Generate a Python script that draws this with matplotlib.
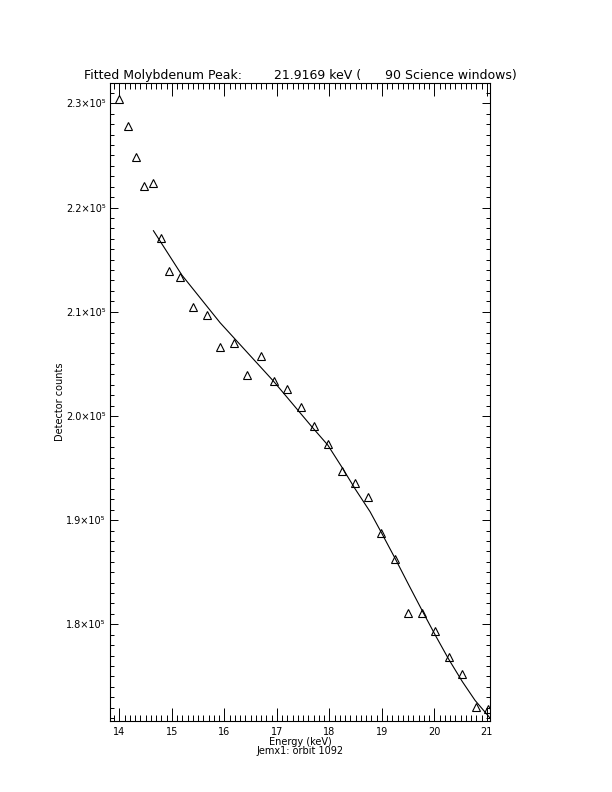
import numpy as np
import matplotlib
matplotlib.use("Agg")
import matplotlib.pyplot as plt
from matplotlib.ticker import MultipleLocator, FuncFormatter

# measured spectrum (keV, counts)
energy = [14.000, 14.166, 14.324, 14.476, 14.636, 14.794, 14.952, 15.162,
          15.410, 15.665, 15.924, 16.185, 16.432, 16.693, 16.947, 17.194,
          17.461, 17.714, 17.970, 18.236, 18.490, 18.743, 18.985, 19.251,
          19.505, 19.771, 20.013, 20.280, 20.533, 20.789, 21.029]
counts = [230413, 227850, 224875, 222063, 222380, 217073, 213877, 213359,
          210480, 209712, 206641, 206967, 203954, 205748, 203349, 202577,
          200817, 199059, 197303, 194740, 193589, 192245, 188733, 186266,
          181113, 181055, 179385, 176890, 175201, 172092, 171842]

# fitted curve
fit_e = [14.648, 15.189, 15.918, 16.933, 17.665, 17.970, 18.236, 18.490,
         18.775, 18.998, 19.251, 19.520, 19.790, 20.013, 20.267, 20.533,
         20.775, 21.029, 21.06]
fit_c = [217773, 213522, 208944, 203349, 198963, 197200, 195100, 193000,
         190806, 188733, 186334, 183700, 181100, 179000, 176700, 174500,
         172700, 171200, 171000]

title = "Fitted Molybdenum Peak:        21.9169 keV (      90 Science windows)"

fig = plt.figure(figsize=(6.12, 7.92), dpi=100)
ax = fig.add_axes([0.1797, 0.0896, 0.621, 0.8056])

ax.plot(energy, counts, linestyle="none", marker="^", markersize=6,
        markerfacecolor="none", markeredgecolor="black", markeredgewidth=0.8)
ax.plot(fit_e, fit_c, color="black", linewidth=0.8)

ax.set_xlim(13.82, 21.06)
ax.set_ylim(170720, 231950)

ax.xaxis.set_major_locator(MultipleLocator(1))
ax.xaxis.set_minor_locator(MultipleLocator(0.1))
ax.yaxis.set_major_locator(MultipleLocator(10000))
ax.yaxis.set_minor_locator(MultipleLocator(1000))

def yfmt(v, pos):
    return "%.1f×10⁵" % (v / 1e5)

ax.yaxis.set_major_formatter(FuncFormatter(yfmt))
ax.xaxis.set_major_formatter(FuncFormatter(lambda v, p: "%d" % v))

ax.tick_params(axis="both", which="both", direction="in", top=True, right=True,
               labelsize=7, width=0.7, colors="black")
ax.tick_params(axis="x", which="major", length=9.2, pad=4)
ax.tick_params(axis="x", which="minor", length=4.6)
ax.tick_params(axis="y", which="major", length=5.5, pad=3)
ax.tick_params(axis="y", which="minor", length=2.7)
for s in ax.spines.values():
    s.set_linewidth(0.8)

ax.set_title(title, fontsize=9, pad=3)
ax.set_xlabel("Energy (keV)\nJemx1: orbit 1092", fontsize=7, labelpad=0,
              linespacing=0.9)
ax.set_ylabel("Detector counts", fontsize=7, labelpad=1)

fig.savefig("out.png", dpi=100)
